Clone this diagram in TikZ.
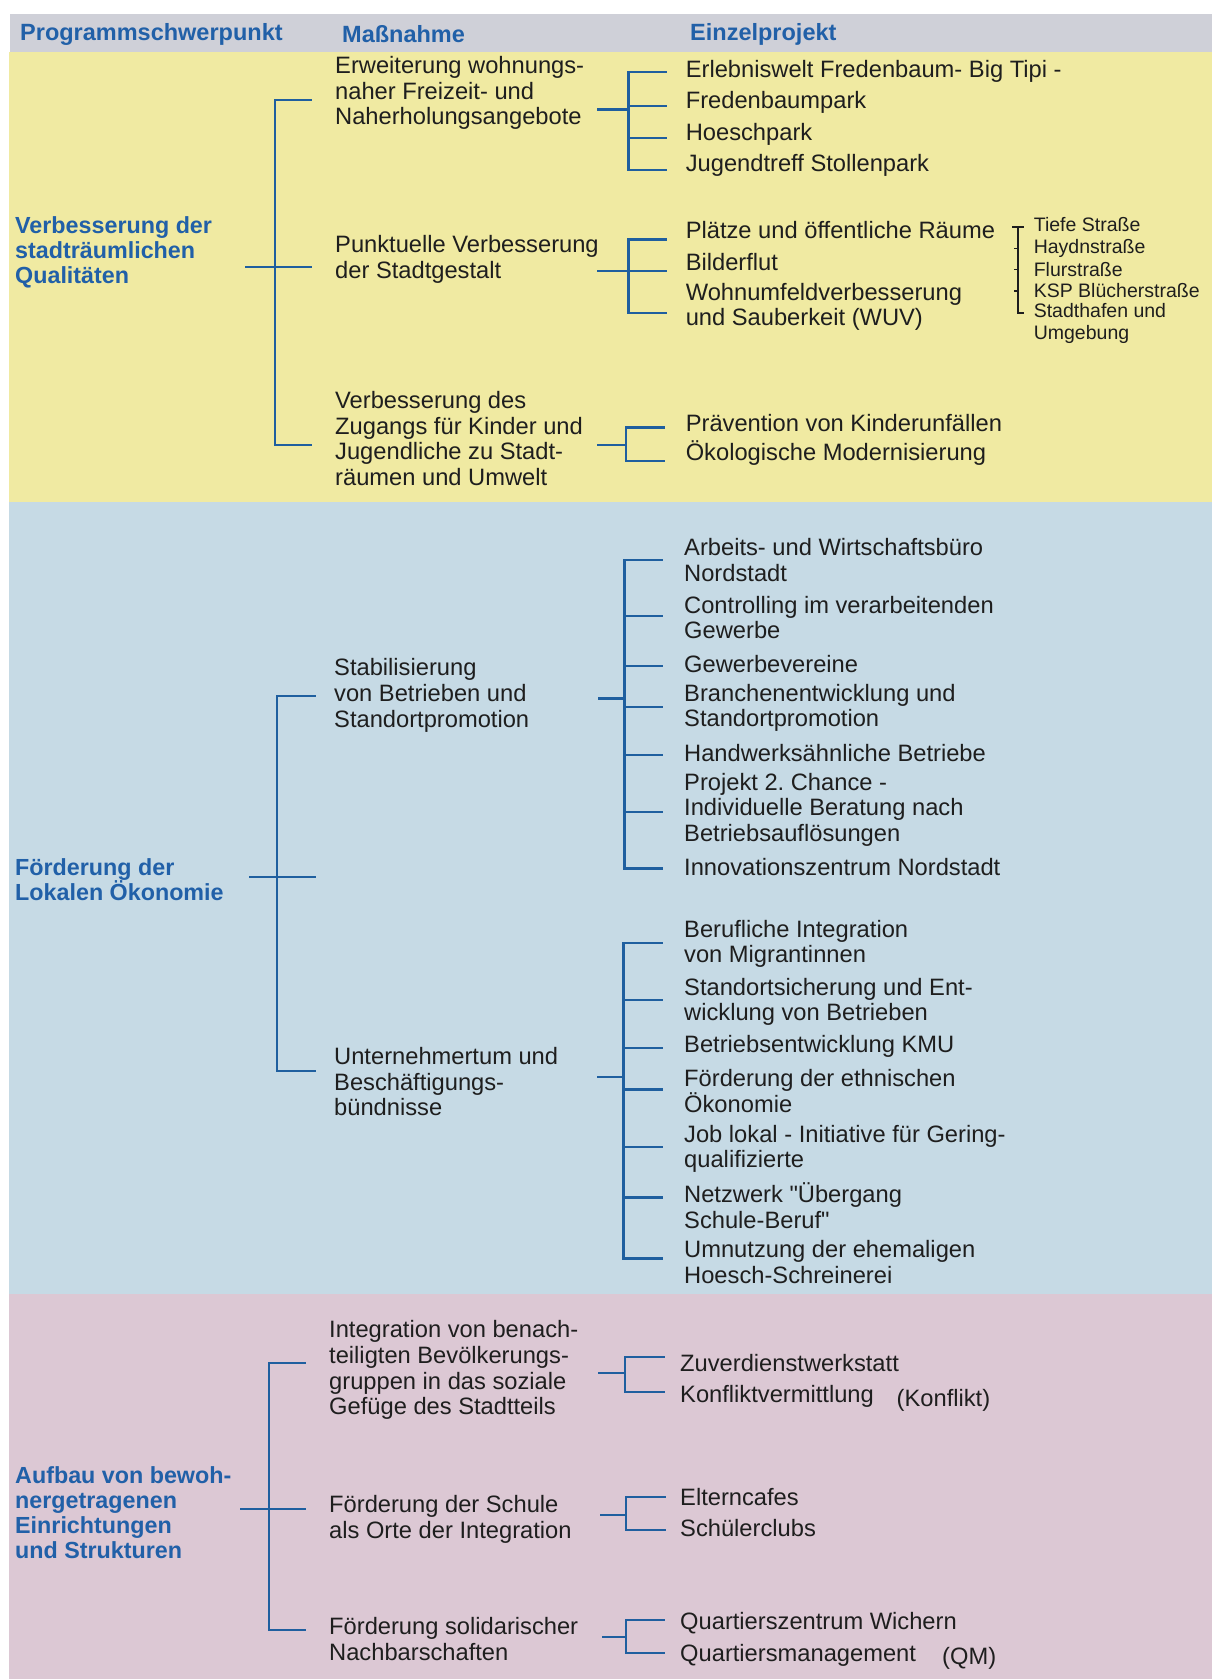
\documentclass[tikz,border=0pt]{standalone}
\usepackage{fontspec}
\setmainfont{Liberation Sans}
\newfontfamily\nq{Liberation Sans}
\definecolor{hdr}{HTML}{CFD0D8}
\definecolor{yel}{HTML}{F0EAA2}
\definecolor{blu}{HTML}{C6DAE5}
\definecolor{pnk}{HTML}{DCC8D4}
\definecolor{hblue}{HTML}{2160A8}
\definecolor{lblue}{HTML}{1F5F9F}
\definecolor{txt}{HTML}{1E1E1E}
\frenchspacing
\begin{document}
\begin{tikzpicture}[x=1pt,y=-1pt,
  head/.style={font=\fontsize{23.5}{25}\selectfont\bfseries, text=hblue, anchor=west, inner sep=0pt},
  prog/.style={font=\fontsize{23.3}{25}\selectfont\bfseries, text=hblue, anchor=west, align=left, inner sep=0pt},
  mass/.style={font=\fontsize{23.7}{25.7}\selectfont, text=txt, anchor=west, align=left, inner sep=0pt},
  proj/.style={font=\fontsize{23.7}{25.5}\selectfont, text=txt, anchor=west, align=left, inner sep=0pt},
  small/.style={font=\fontsize{19.5}{21.5}\selectfont, text=txt, anchor=west, align=left, inner sep=0pt},
  conn/.style={draw=lblue, line width=2.4pt},
  thin/.style={draw=txt, line width=1.1pt}]
\useasboundingbox (0,0) rectangle (1212,1679);
\fill[white] (0,0) rectangle (1212,1679);
% bands
\fill[hdr] (10,14) rectangle (1212,52);
\fill[yel] (9,52) rectangle (1212,502);
\fill[blu] (9,502) rectangle (1212,1294);
\fill[pnk] (9,1294) rectangle (1212,1679);
% header
\node[head] (h1) at (20,34) {Programmschwerpunkt};
\node[head] (h2) at (342,34) {Maßnahme};
\node[head] (h3) at (690,34) {Einzelprojekt};
% Programmschwerpunkte
\node[prog] (p1) at (15,252) {Verbesserung der\\stadträumlichen\\Qualitäten};
\node[prog] (p2) at (15,880) {Förderung der\\Lokalen Ökonomie};
\node[prog] (p3) at (15,1513) {Aufbau von bewoh-\\nergetragenen\\Einrichtungen\\und Strukturen};
% Massnahmen
\node[mass] (m1) at (335,93) {Erweiterung wohnungs-\\naher Freizeit- und\\Naherholungsangebote};
\node[mass] (m2) at (335,259.7) {Punktuelle Verbesserung\\der Stadtgestalt};
\node[mass] (m3) at (335,438.6) {Verbesserung des\\Zugangs für Kinder und\\Jugendliche zu Stadt-\\räumen und Umwelt};
\node[mass] (m4) at (334,695.5) {Stabilisierung\\von Betrieben und\\Standortpromotion};
\node[mass] (m5) at (334,1081.7) {Unternehmertum und\\Beschäftigungs-\\bündnisse};
\node[mass] (m6) at (329,1370.3) {Integration von benach-\\teiligten Bevölkerungs-\\gruppen in das soziale\\Gefüge des Stadtteils};
\node[mass] (m7) at (329,1519.7) {Förderung der Schule\\als Orte der Integration};
\node[mass] (m8) at (329,1639.2) {Förderung solidarischer\\Nachbarschaften};
% Einzelprojekte
\node[proj] (e1a) at (685.6,71.7) {Erlebniswelt Fredenbaum- Big Tipi -};
\node[proj] (e1b) at (685.6,102.7) {Fredenbaumpark};
\node[proj] (e1c) at (685.6,134.3) {Hoeschpark};
\node[proj] (e1d) at (685.6,165) {Jugendtreff Stollenpark};
\node[proj] (e2a) at (685.6,230) {Plätze und öffentliche Räume};
\node[proj] (e2b) at (685.6,261.7) {Bilderflut};
\node[proj] (e2c) at (685.6,307) {Wohnumfeldverbesserung\\und Sauberkeit (WUV)};
\node[proj] (e3a) at (685.6,422.7) {Prävention von Kinderunfällen};
\node[proj] (e3b) at (685.6,453.3) {Ökologische Modernisierung};
\node[proj] (e4a) at (684,560.2) {Arbeits- und Wirtschaftsbüro\\Nordstadt};
\node[proj] (e4b) at (684,617.3) {Controlling im verarbeitenden\\Gewerbe};
\node[proj] (e4c) at (684,664) {Gewerbevereine};
\node[proj] (e4d) at (684,707.8) {Branchenentwicklung und\\Standortpromotion};
\node[proj] (e4e) at (684,753.3) {Handwerksähnliche Betriebe};
\node[proj] (e4f) at (684,809.5) {Projekt 2. Chance -\\Individuelle Beratung nach\\Betriebsauflösungen};
\node[proj] (e4g) at (684,866.7) {Innovationszentrum Nordstadt};
\node[proj] (e5a) at (684,944) {Berufliche Integration\\von Migrantinnen};
\node[proj] (e5b) at (684,1001.7) {Standortsicherung und Ent-\\wicklung von Betrieben};
\node[proj] (e5c) at (684,1046) {Betriebsentwicklung KMU};
\node[proj] (e5d) at (684,1090.8) {Förderung der ethnischen\\Ökonomie};
\node[proj] (e5e) at (684,1148.8) {Job lokal - Initiative für Gering-\\qualifizierte};
\node[proj] (e5f) at (684,1205.5) {Netzwerk {\nq"}Übergang\\Schule-Beruf{\nq"}};
\node[proj] (e5g) at (684,1262) {Umnutzung der ehemaligen\\Hoesch-Schreinerei};
\node[proj] (e6a) at (680,1363.3) {Zuverdienstwerkstatt};
\node[proj] (e6b) at (680,1396.7) {Konfliktvermittlung};
\node[proj] (e6k) at (896.5,1400) {(Konflikt)};
\node[proj] (e7a) at (680,1497.3) {Elterncafes};
\node[proj] (e7b) at (680,1528.3) {Schülerclubs};
\node[proj] (e8a) at (680,1623.3) {Quartierszentrum Wichern};
\node[proj] (e8b) at (680,1655) {Quartiersmanagement};
\node[proj] (e8q) at (942,1658.3) {(QM)};
% small list
\node[small] (s1) at (1033.6,225) {Tiefe Straße};
\node[small] (s2) at (1033.6,248.3) {Haydnstraße};
\node[small] (s3) at (1033.6,269.3) {Flurstraße};
\node[small] (s4) at (1033.6,291) {KSP Blücherstraße};
\node[small] (s5) at (1033.6,323.3) {Stadthafen und\\Umgebung};
\coordinate (kt) at (1018,227);
\coordinate (kb) at (1018,313);
\draw[thin] (1012,227) -- (1024,227);
\draw[thin] (kt) -- (kb) -- (1024,313);
\foreach \y/\n in {248.3/2,269.3/3,291/4} { \coordinate (k\n) at (1018,\y); \draw[thin] (k\n) -- (1013.5,\y); }
% level-1 trees
\coordinate (t1s) at (245,267); \coordinate (t1j) at (275,267);
\coordinate (t1a) at (312,100); \coordinate (t1b) at (312,267); \coordinate (t1c) at (312,445);
\draw[conn] (t1s) -- (t1j);
\foreach \n in {a,b,c} \draw[conn] (t1j) |- (t1\n);
\coordinate (t2s) at (249,877); \coordinate (t2j) at (277,877);
\coordinate (t2a) at (316,696); \coordinate (t2b) at (316,877); \coordinate (t2c) at (316,1071);
\draw[conn] (t2s) -- (t2j);
\foreach \n in {a,b,c} \draw[conn] (t2j) |- (t2\n);
\coordinate (t3s) at (240,1509); \coordinate (t3j) at (269,1509);
\coordinate (t3a) at (306,1363); \coordinate (t3b) at (306,1509); \coordinate (t3c) at (306,1630);
\draw[conn] (t3s) -- (t3j);
\foreach \n in {a,b,c} \draw[conn] (t3j) |- (t3\n);
% level-2 trees
\coordinate (g1s) at (597,109.3); \coordinate (g1j) at (628.5,109.3);
\draw[conn] (g1s) -- (g1j);
\foreach \n/\y in {a/71.7,b/106,c/137.7,d/170} { \coordinate (g1\n) at (667,\y); \draw[conn] (g1j) |- (g1\n); }
\coordinate (g2s) at (597,270.7); \coordinate (g2j) at (628.5,270.7);
\draw[conn] (g2s) -- (g2j);
\foreach \n/\y in {a/239.3,b/270.7,c/312.7} { \coordinate (g2\n) at (667,\y); \draw[conn] (g2j) |- (g2\n); }
\coordinate (g3s) at (597,445); \coordinate (g3j) at (626,445);
\draw[conn] (g3s) -- (g3j);
\foreach \n/\y in {a/427.3,b/460.7} { \coordinate (g3\n) at (665,\y); \draw[conn] (g3j) |- (g3\n); }
\coordinate (g4s) at (598,698.3); \coordinate (g4j) at (624.4,698.3);
\draw[conn] (g4s) -- (g4j);
\foreach \n/\y in {a/560,b/616,c/666,d/706.7,e/755,f/811.7,g/868.3} { \coordinate (g4\n) at (662.7,\y); \draw[conn] (g4j) |- (g4\n); }
\coordinate (g5s) at (597,1076.7); \coordinate (g5j) at (623.5,1076.7);
\draw[conn] (g5s) -- (g5j);
\foreach \n/\y in {a/942.7,b/1000,c/1047.7,d/1089.3,e/1146.7,f/1197.3,g/1258.3} { \coordinate (g5\n) at (662.7,\y); \draw[conn] (g5j) |- (g5\n); }
\coordinate (g6s) at (598,1372.7); \coordinate (g6j) at (625,1372.7);
\draw[conn] (g6s) -- (g6j);
\foreach \n/\y in {a/1356.7,b/1391.7} { \coordinate (g6\n) at (664.7,\y); \draw[conn] (g6j) |- (g6\n); }
\coordinate (g7s) at (600,1515); \coordinate (g7j) at (626,1515);
\draw[conn] (g7s) -- (g7j);
\foreach \n/\y in {a/1496.7,b/1530} { \coordinate (g7\n) at (666,\y); \draw[conn] (g7j) |- (g7\n); }
\coordinate (g8s) at (602,1636.7); \coordinate (g8j) at (626,1636.7);
\draw[conn] (g8s) -- (g8j);
\foreach \n/\y in {a/1620,b/1652.7} { \coordinate (g8\n) at (664.7,\y); \draw[conn] (g8j) |- (g8\n); }
\end{tikzpicture}
\end{document}
